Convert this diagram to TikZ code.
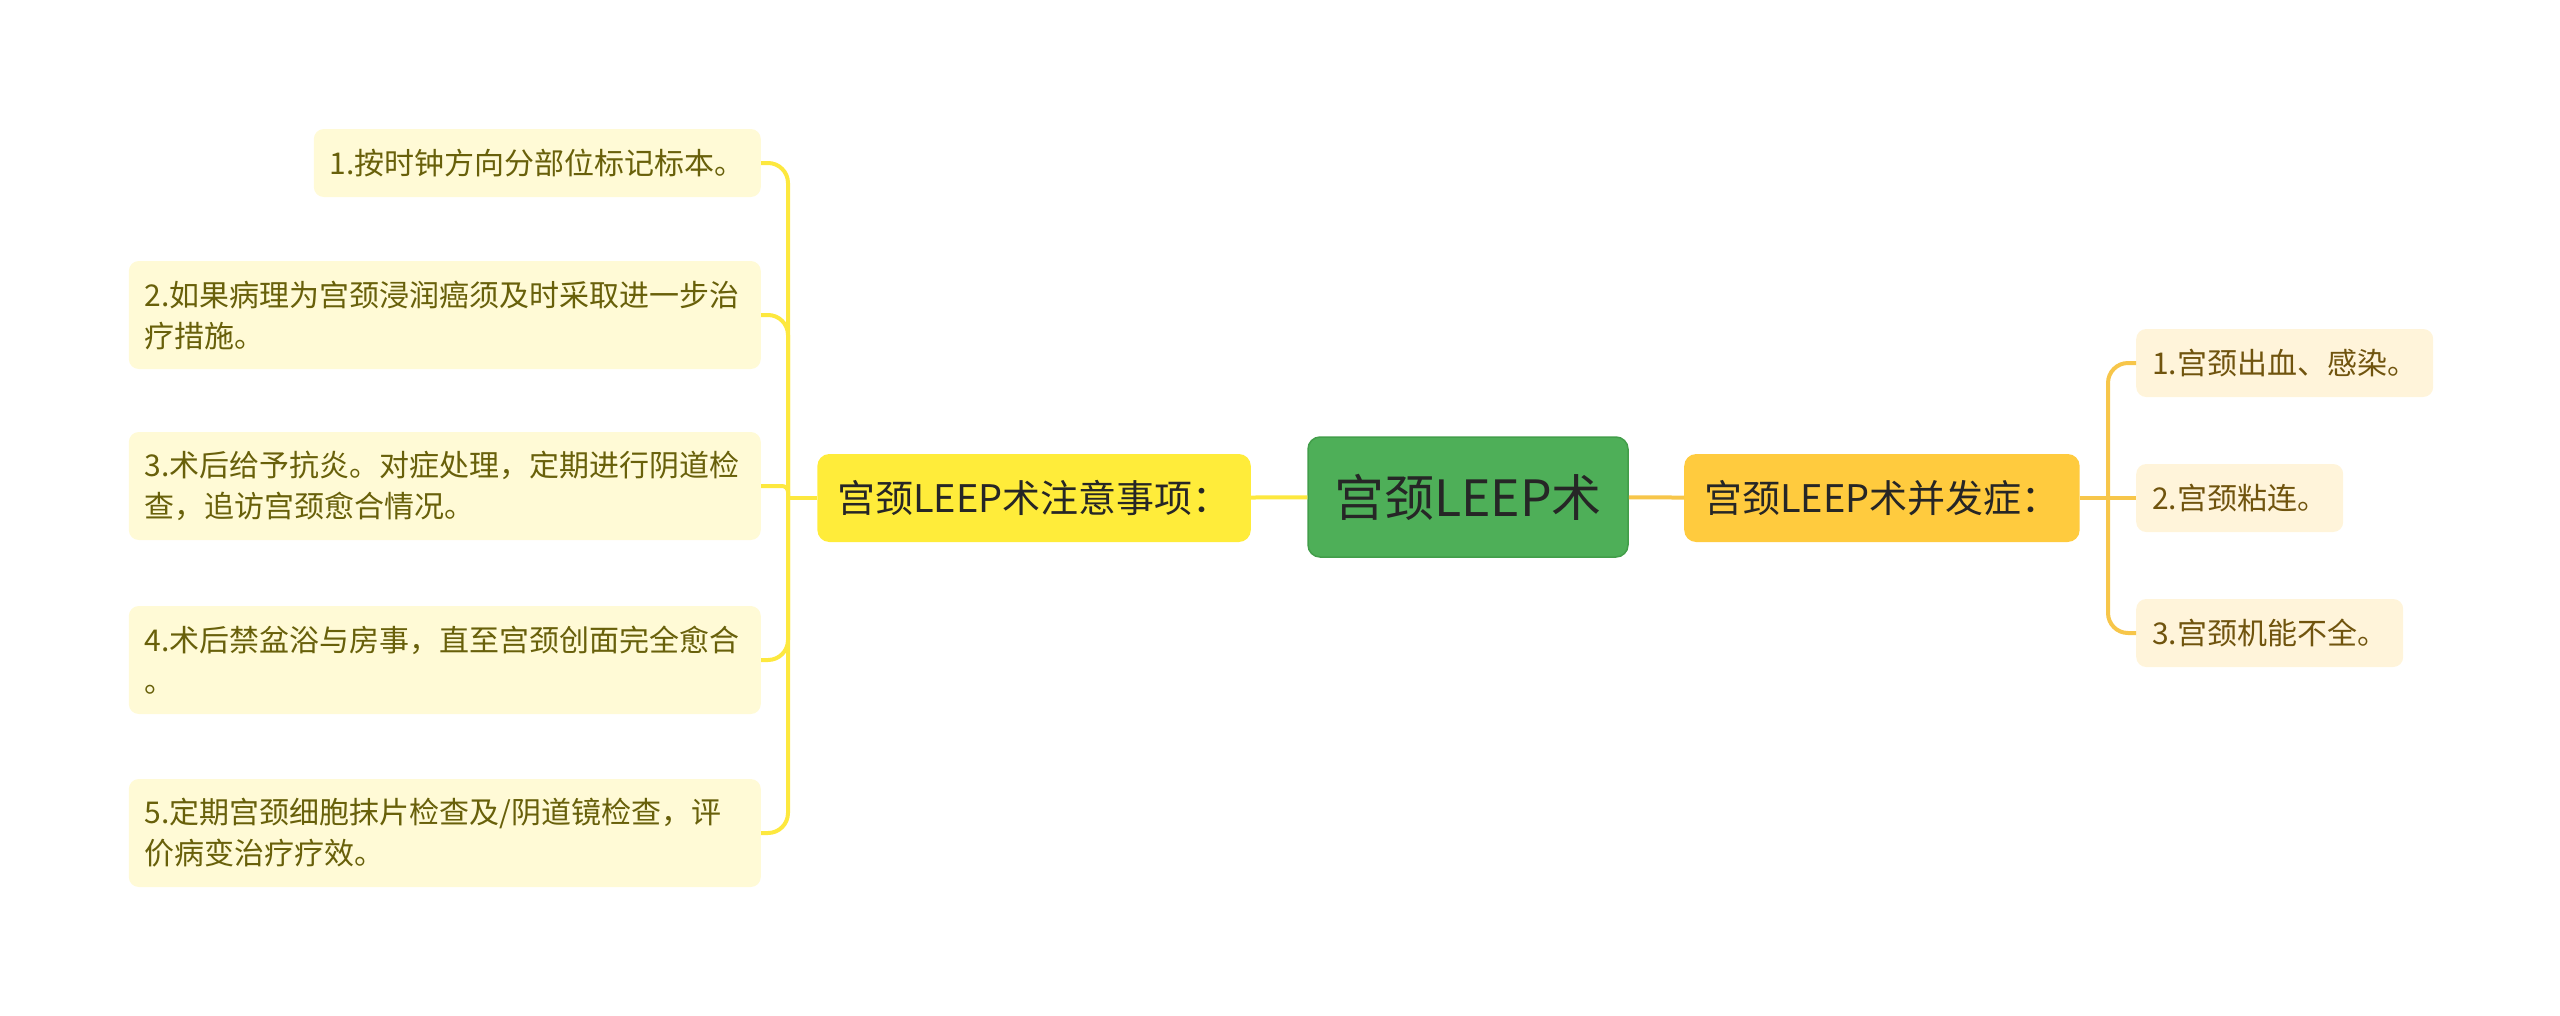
\documentclass[tikz,border=0pt]{standalone}
\usepackage{fontspec}
\newfontfamily\cjk{Noto Sans CJK SC}
\definecolor{rootfill}{RGB}{78,175,88}
\definecolor{rootedge}{RGB}{66,158,74}
\definecolor{leftfill}{RGB}{255,236,58}
\definecolor{rightfill}{RGB}{255,203,62}
\definecolor{leftleaf}{RGB}{255,250,214}
\definecolor{rightleaf}{RGB}{255,244,218}
\definecolor{lefttxt}{RGB}{104,96,10}
\definecolor{righttxt}{RGB}{112,84,14}
\definecolor{leftline}{RGB}{253,232,62}
\definecolor{rightline}{RGB}{247,198,74}
\definecolor{darktxt}{RGB}{38,38,38}

\begin{document}
\begin{tikzpicture}[x=1pt,y=-1pt,
    topic/.style={rounded corners=12pt,minimum height=88pt,inner xsep=20pt,
      text=darktxt,font=\cjk\fontsize{38}{46}\selectfont},
    leafl/.style={fill=leftleaf,text=lefttxt,rounded corners=10pt,inner xsep=16pt,
      minimum height=68pt,align=left,font=\cjk\fontsize{30}{41}\selectfont},
    leafr/.style={leafl,fill=rightleaf,text=righttxt},
    linel/.style={draw=leftline,line width=4pt,rounded corners=20pt},
    liner/.style={draw=rightline,line width=4pt,rounded corners=20pt}]
   \useasboundingbox (0,0) rectangle (2560,1015);
   % middle
   \node[fill=rootfill,draw=rootedge,line width=1.5pt,rounded corners=12pt,
      minimum width=320pt,minimum height=120pt,text=darktxt,
      font=\cjk\fontsize{50}{60}\selectfont] (root) at (1468,497) {宫颈LEEP术};
   \node[topic,fill=leftfill,anchor=east] (care) at (1251,498) {宫颈LEEP术注意事项：};
   \node[topic,fill=rightfill,anchor=west] (risk) at (1684,498) {宫颈LEEP术并发症：};
   \draw[linel] (care) -- (root);
   \draw[liner] (root) -- (risk);
   % left side
   \begin{scope}[every node/.style={leafl,anchor=east}]
    \node (care1) at (761,163) {1.按时钟方向分部位标记标本。};
    \node[text width=600pt,minimum height=108pt] (care2) at (761,315)
       {2.如果病理为宫颈浸润癌须及时采取进一步治\\疗措施。};
    \node[text width=600pt,minimum height=108pt] (care3) at (761,486)
       {3.术后给予抗炎。对症处理，定期进行阴道检\\查，追访宫颈愈合情况。};
    \node[text width=600pt,minimum height=108pt] (care4) at (761,660)
       {4.术后禁盆浴与房事，直至宫颈创面完全愈合\\。};
    \node[text width=600pt,minimum height=108pt] (care5) at (761,833)
       {5.定期宫颈细胞抹片检查及/阴道镜检查，评\\价病变治疗疗效。};
   \end{scope}
   \coordinate (lfork) at (788,498);
   \draw[linel] (care.west) -- (lfork);
   \draw[linel] (lfork) |- (care1.east);
   \draw[linel] (lfork) |- (care2.east);
   \draw[linel,rounded corners=6pt] (lfork) |- (care3.east);
   \draw[linel] (lfork) |- (care4.east);
   \draw[linel] (lfork) |- (care5.east);
   % right side
   \begin{scope}[every node/.style={leafr,anchor=west}]
    \node (risk1) at (2136,363) {1.宫颈出血、感染。};
    \node (risk2) at (2136,498) {2.宫颈粘连。};
    \node (risk3) at (2136,633) {3.宫颈机能不全。};
   \end{scope}
   \coordinate (rfork) at (2108,498);
   \draw[liner] (risk.east) -- (risk2.west);
   \draw[liner] (rfork) |- (risk1.west);
   \draw[liner] (rfork) |- (risk3.west);
  \end{tikzpicture}
\end{document}
